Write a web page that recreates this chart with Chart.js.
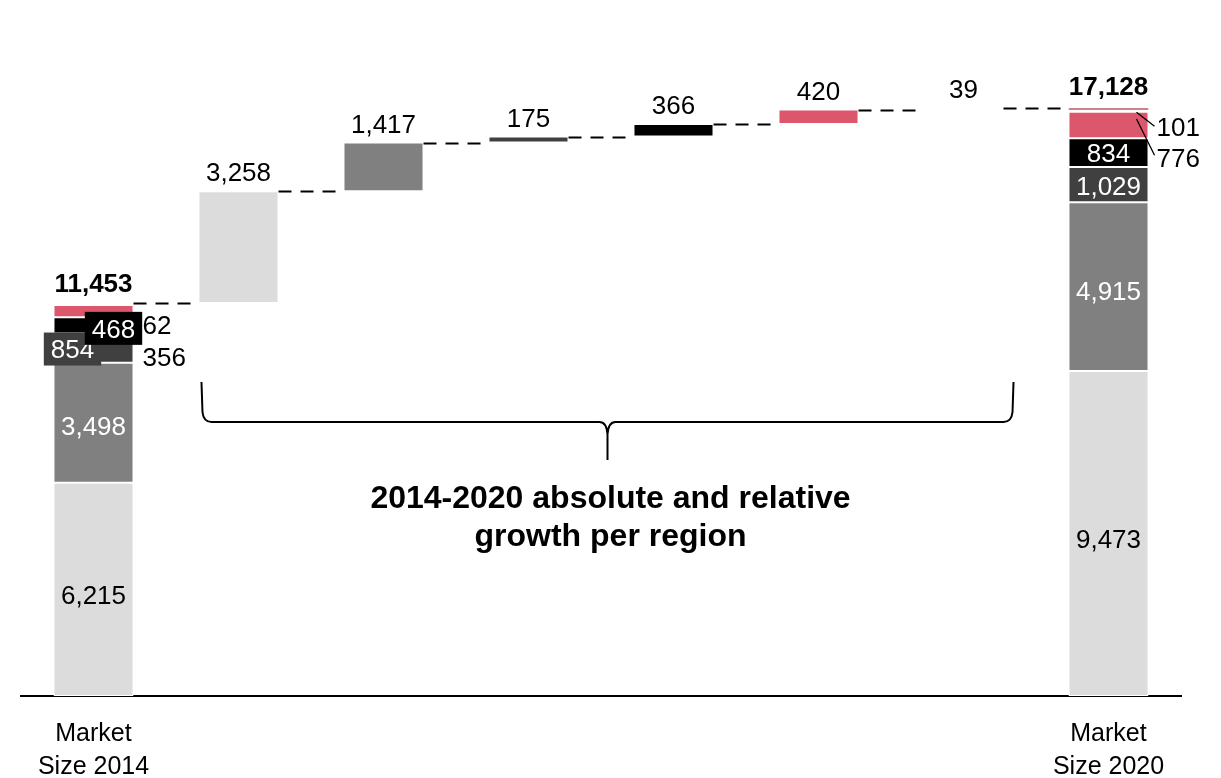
<!DOCTYPE html>
<html>
<head>
<meta charset="utf-8">
<script src="https://cdn.jsdelivr.net/npm/chart.js@4/dist/chart.umd.min.js"></script>
<style>
  html, body { margin: 0; padding: 0; background: #fff; }
  #wrap { width: 1221px; height: 778px; }
</style>
</head>
<body>
<div id="wrap"><canvas id="chart" width="1221" height="778"></canvas></div>
<script>
const categories = [['Market', 'Size 2014'], '', '', '', '', '', '', ['Market', 'Size 2020']];
const regions    = ['Region 1', 'Region 2', 'Region 3', 'Region 4', 'Region 5', 'Region 6'];
const size2014   = [6215, 3498, 854, 468, 356, 62];
const size2020   = [9473, 4915, 1029, 834, 776, 101];
const growth     = [3258, 1417, 175, 366, 420, 39];
const colors     = ['#dcdcdc', '#808080', '#404040', '#000000', '#dc566c', '#ffffff'];

const FONT = '"Liberation Sans", Arial, sans-serif';
const fmt = (v) => v.toLocaleString('en-US');

function cumulative(arr) {
  const out = [0];
  arr.forEach(v => out.push(out[out.length - 1] + v));
  return out;
}
const cum14 = cumulative(size2014);
const cum20 = cumulative(size2020);
const total14 = cum14[cum14.length - 1];
const total20 = cum20[cum20.length - 1];

// tops of the floating bars, level[i] = top of bar i
const levels = [total14];
growth.forEach(g => levels.push(levels[levels.length - 1] + g));

const datasets = regions.map((name, r) => {
  const data = new Array(categories.length).fill(null);
  data[0] = [cum14[r], cum14[r + 1]];
  data[r + 1] = [levels[r], levels[r + 1]];
  data[categories.length - 1] = [cum20[r], cum20[r + 1]];
  const last = r === regions.length - 1;
  return {
    label: name,
    data,
    backgroundColor: colors[r],
    borderColor: last ? (c => c.dataIndex === categories.length - 1 ? '#a3262f' : '#ffffff') : '#ffffff',
    borderWidth: last ? (c => c.dataIndex === categories.length - 1 ? { top: 1.5, left: 0, right: 0, bottom: 0 } : 0) : 1,
    borderSkipped: false
  };
});

function text(ctx, s, x, y, opts = {}) {
  ctx.save();
  ctx.font = `${opts.bold ? 'bold ' : ''}${opts.size || 26}px ${FONT}`;
  ctx.fillStyle = opts.color || '#000';
  ctx.textAlign = opts.align || 'center';
  ctx.textBaseline = 'middle';
  ctx.fillText(s, x, y);
  ctx.restore();
}

function boxLabel(ctx, s, cx, cy, bg) {
  ctx.save();
  ctx.font = `26px ${FONT}`;
  const w = ctx.measureText(s).width + 14;
  const h = 33;
  ctx.fillStyle = bg;
  ctx.fillRect(cx - w / 2, cy - h / 2, w, h);
  ctx.restore();
  text(ctx, s, cx, cy + 2, { color: '#fff' });
}

const decorPlugin = {
  id: 'decor',
  afterDatasetsDraw(chart) {
    const { ctx, scales: { x, y } } = chart;
    const half = chart.getDatasetMeta(0).data[0].width / 2;
    const n = categories.length;
    const mid = (a, b) => (y.getPixelForValue(a) + y.getPixelForValue(b)) / 2;

    // dashed connectors
    ctx.save();
    ctx.strokeStyle = '#000';
    ctx.lineWidth = 2;
    ctx.setLineDash([13, 9]);
    for (let i = 0; i < n - 1; i++) {
      const yy = Math.round(y.getPixelForValue(levels[i])) + 0.5;
      ctx.beginPath();
      ctx.moveTo(x.getPixelForValue(i) + half, yy);
      ctx.lineTo(x.getPixelForValue(i + 1) - half, yy);
      ctx.stroke();
    }
    ctx.restore();

    // 2014 stack
    const x0 = x.getPixelForValue(0);
    text(ctx, fmt(size2014[0]), x0, mid(cum14[0], cum14[1]) + 7);
    text(ctx, fmt(size2014[1]), x0, mid(cum14[1], cum14[2]) + 5, { color: '#fff' });
    boxLabel(ctx, fmt(size2014[2]), x0 - 21, mid(cum14[2], cum14[3]) + 1, colors[2]);
    boxLabel(ctx, fmt(size2014[3]), x0 + 20, mid(cum14[3], cum14[4]) + 3, colors[3]);
    text(ctx, fmt(size2014[5]), x0 + half + 9, y.getPixelForValue(total14) + 24, { align: 'left' });
    text(ctx, fmt(size2014[4]), x0 + half + 9, y.getPixelForValue(total14) + 56, { align: 'left' });
    text(ctx, fmt(total14), x0, y.getPixelForValue(total14) - 18, { bold: true });

    // growth bars
    growth.forEach((g, i) => {
      text(ctx, fmt(g), x.getPixelForValue(i + 1), y.getPixelForValue(levels[i + 1]) - 17);
    });

    // 2020 stack
    const x7 = x.getPixelForValue(n - 1);
    text(ctx, fmt(size2020[0]), x7, mid(cum20[0], cum20[1]) + 7);
    text(ctx, fmt(size2020[1]), x7, mid(cum20[1], cum20[2]) + 6, { color: '#fff' });
    text(ctx, fmt(size2020[2]), x7, mid(cum20[2], cum20[3]) + 3, { color: '#fff' });
    text(ctx, fmt(size2020[3]), x7, mid(cum20[3], cum20[4]) + 2, { color: '#fff' });
    text(ctx, fmt(total20), x7, y.getPixelForValue(total20) - 20, { bold: true });

    const rx = x7 + half;
    const yTop = y.getPixelForValue(total20);
    ctx.save();
    ctx.strokeStyle = '#000';
    ctx.lineWidth = 1.3;
    ctx.beginPath();
    ctx.moveTo(rx - 12, yTop + 4);
    ctx.lineTo(rx + 6, yTop + 18);
    ctx.moveTo(rx - 12, mid(cum20[4], cum20[5]) - 6);
    ctx.lineTo(rx + 6, yTop + 47);
    ctx.stroke();
    ctx.restore();
    text(ctx, fmt(size2020[5]), rx + 8, yTop + 21, { align: 'left' });
    text(ctx, fmt(size2020[4]), rx + 8, yTop + 52, { align: 'left' });

    // brace over the growth bars
    const bl = x.getPixelForValue(1) - half + 3;
    const br = x.getPixelForValue(n - 2) + half + 10;
    const bc = (bl + br) / 2;
    const top = 382, bar = 422, tip = 460;
    ctx.save();
    ctx.strokeStyle = '#000';
    ctx.lineWidth = 2;
    ctx.beginPath();
    ctx.moveTo(bl, top);
    ctx.lineTo(bl + 1, bar - 10);
    ctx.quadraticCurveTo(bl + 2, bar, bl + 10, bar);
    ctx.lineTo(bc - 8, bar);
    ctx.quadraticCurveTo(bc - 1, bar, bc, bar + 12);
    ctx.lineTo(bc, tip);
    ctx.moveTo(bc, bar + 12);
    ctx.quadraticCurveTo(bc + 1, bar, bc + 8, bar);
    ctx.lineTo(br - 10, bar);
    ctx.quadraticCurveTo(br - 2, bar, br - 1, bar - 10);
    ctx.lineTo(br, top);
    ctx.stroke();
    ctx.restore();

    text(ctx, '2014-2020 absolute and relative', bc + 3, 499, { bold: true, size: 32 });
    text(ctx, 'growth per region', bc + 3, 537, { bold: true, size: 32 });
  }
};

new Chart(document.getElementById('chart'), {
  type: 'bar',
  data: { labels: categories, datasets },
  options: {
    responsive: false,
    animation: false,
    layout: { padding: { left: 21, right: 40, top: 44, bottom: 0 } },
    datasets: { bar: { grouped: false, categoryPercentage: 1, barPercentage: 0.552 } },
    plugins: { legend: { display: false }, tooltip: { enabled: false } },
    scales: {
      x: {
        grid: { display: false, drawTicks: false },
        border: { display: true, color: '#000', width: 2 },
        ticks: { color: '#000', font: { family: FONT, size: 25, lineHeight: 1.33 }, padding: 21, maxRotation: 0, autoSkip: false },
        afterFit: (scale) => { scale.height = 82; }
      },
      y: {
        display: false,
        min: 0,
        max: 19000
      }
    }
  },
  plugins: [decorPlugin]
});
</script>
</body>
</html>
